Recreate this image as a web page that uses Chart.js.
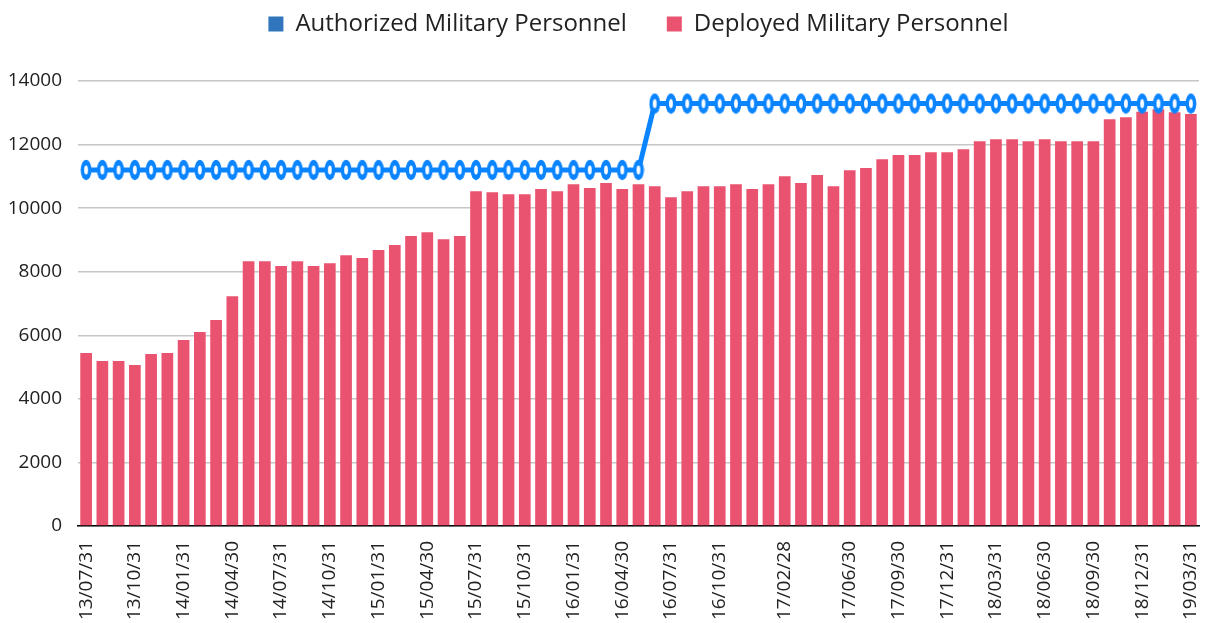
<!DOCTYPE html>
<html>
<head>
<meta charset="utf-8">
<script src="https://cdn.jsdelivr.net/npm/chart.js@4"></script>
<style>
  html, body { margin: 0; padding: 0; background: #fff; }
  #wrap { width: 1210px; height: 623px; }
</style>
</head>
<body>
<div id="wrap"><canvas id="chart"></canvas></div>
<script>
// ==========================================
// Data
// ==========================================
const months = [
    "13/07/31", "13/08/31", "13/09/30", "13/10/31", "13/11/30", "13/12/31",
    "14/01/31", "14/02/28", "14/03/31", "14/04/30", "14/05/31", "14/06/30",
    "14/07/31", "14/08/31", "14/09/30", "14/10/31", "14/11/30", "14/12/31",
    "15/01/31", "15/02/28", "15/03/31", "15/04/30", "15/05/31", "15/06/30",
    "15/07/31", "15/08/31", "15/09/30", "15/10/31", "15/11/30", "15/12/31",
    "16/01/31", "16/02/29", "16/03/31", "16/04/30", "16/05/31", "16/06/30",
    "16/07/31", "16/08/31", "16/09/30", "16/10/31", "16/11/30", "16/12/31",
    "17/01/31", "17/02/28", "17/03/31", "17/04/30", "17/05/31", "17/06/30",
    "17/07/31", "17/08/31", "17/09/30", "17/10/31", "17/11/30", "17/12/31",
    "18/01/31", "18/02/28", "18/03/31", "18/04/30", "18/05/31", "18/06/30",
    "18/07/31", "18/08/31", "18/09/30", "18/10/31", "18/11/30", "18/12/31",
    "19/01/31", "19/02/28", "19/03/31"
];

// labels that are printed under the axis
const shownTicks = [
    "13/07/31", "13/10/31", "14/01/31", "14/04/30", "14/07/31", "14/10/31",
    "15/01/31", "15/04/30", "15/07/31", "15/10/31", "16/01/31", "16/04/30",
    "16/07/31", "16/10/31", "17/02/28", "17/06/30", "17/09/30", "17/12/31",
    "18/03/31", "18/06/30", "18/09/30", "18/12/31", "19/03/31"
];

const authorized = [
    11200, 11200, 11200, 11200, 11200, 11200,
    11200, 11200, 11200, 11200, 11200, 11200,
    11200, 11200, 11200, 11200, 11200, 11200,
    11200, 11200, 11200, 11200, 11200, 11200,
    11200, 11200, 11200, 11200, 11200, 11200,
    11200, 11200, 11200, 11200, 11200, 13289,
    13289, 13289, 13289, 13289, 13289, 13289,
    13289, 13289, 13289, 13289, 13289, 13289,
    13289, 13289, 13289, 13289, 13289, 13289,
    13289, 13289, 13289, 13289, 13289, 13289,
    13289, 13289, 13289, 13289, 13289, 13289,
    13289, 13289, 13289
];

const deployed = [
    5440, 5190, 5190, 5065, 5410, 5440,
    5850, 6100, 6480, 7230, 8330, 8330,
    8180, 8330, 8180, 8270, 8520, 8430,
    8680, 8840, 9120, 9245, 9025, 9120,
    10535, 10500, 10440, 10440, 10600, 10535,
    10755, 10630, 10790, 10600, 10755, 10690,
    10345, 10535, 10690, 10690, 10755, 10600,
    10755, 11005, 10790, 11040, 10690, 11195,
    11260, 11540, 11670, 11670, 11760, 11760,
    11855, 12105, 12170, 12170, 12105, 12170,
    12105, 12105, 12105, 12800, 12860, 13030,
    13110, 13020, 12960
];

const seriesNames = ["Authorized Military Personnel", "Deployed Military Personnel"];
const legendColors = ["#3175bd", "#ea5370"];

// ==========================================
// Oval point marker
// ==========================================
function makeOval() {
    const c = document.createElement("canvas");
    c.width = 12;
    c.height = 22;
    const g = c.getContext("2d");
    g.fillStyle = "#0a84ff";
    g.beginPath();
    g.ellipse(6, 11, 5.4, 10.2, 0, 0, Math.PI * 2);
    g.fill();
    g.fillStyle = "#ffffff";
    g.beginPath();
    g.ellipse(6, 11, 1.9, 4.5, 0, 0, Math.PI * 2);
    g.fill();
    return c;
}
const oval = makeOval();

// more room under the legend
const legendSpace = {
    id: "legendSpace",
    beforeInit(chart) {
        const fit = chart.legend.fit;
        chart.legend.fit = function () {
            fit.bind(chart.legend)();
            this.height += 35;
        };
    }
};

// ==========================================
// Chart
// ==========================================
const ctx = document.getElementById("chart").getContext("2d");

new Chart(ctx, {
    data: {
        labels: months,
        datasets: [
            {
                type: "line",
                label: seriesNames[0],
                data: authorized,
                borderColor: "#0a84ff",
                backgroundColor: legendColors[0],
                borderWidth: 5,
                pointStyle: oval,
                pointRadius: 6,
                pointHoverRadius: 6,
                tension: 0,
                order: 0
            },
            {
                type: "bar",
                label: seriesNames[1],
                data: deployed,
                backgroundColor: legendColors[1],
                categoryPercentage: 1,
                barPercentage: 0.72,
                order: 1
            }
        ]
    },
    options: {
        responsive: true,
        maintainAspectRatio: false,
        animation: false,
        layout: {
            padding: { left: 0, right: 2, top: -28, bottom: 0 }
        },
        plugins: {
            tooltip: { enabled: false },
            legend: {
                position: "top",
                fullSize: false,
                labels: {
                    boxWidth: 15,
                    boxHeight: 15,
                    padding: 40,
                    color: "#222",
                    font: { family: "'Open Sans'", size: 24 },
                    generateLabels(chart) {
                        return chart.data.datasets.map((ds, i) => ({
                            text: ds.label,
                            fillStyle: legendColors[i],
                            strokeStyle: legendColors[i],
                            lineWidth: 0,
                            hidden: false,
                            datasetIndex: i,
                            fontColor: "#222"
                        }));
                    }
                }
            }
        },
        scales: {
            x: {
                grid: { display: false, drawTicks: false },
                border: { display: true, color: "#000", width: 1.5 },
                ticks: {
                    autoSkip: false,
                    maxRotation: 90,
                    minRotation: 90,
                    padding: 15,
                    color: "#222",
                    font: { family: "'Open Sans'", size: 19 },
                    callback: function (value) {
                        const lab = this.getLabelForValue(value);
                        return shownTicks.includes(lab) ? lab : "";
                    }
                },
                afterFit(scale) {
                    scale.height = 97;
                    scale.paddingLeft = 0;
                    scale.paddingRight = 0;
                }
            },
            y: {
                min: 0,
                max: 14000,
                grid: { color: "#c6c6c6", lineWidth: 1.4, drawTicks: false },
                border: { display: false },
                ticks: {
                    stepSize: 2000,
                    padding: 16,
                    color: "#222",
                    font: { family: "'Open Sans'", size: 19 },
                    callback: value => String(value)
                },
                afterFit(scale) {
                    scale.width = 78;
                    scale.paddingTop = 81;
                }
            }
        }
    },
    plugins: [legendSpace]
});
</script>
</body>
</html>
